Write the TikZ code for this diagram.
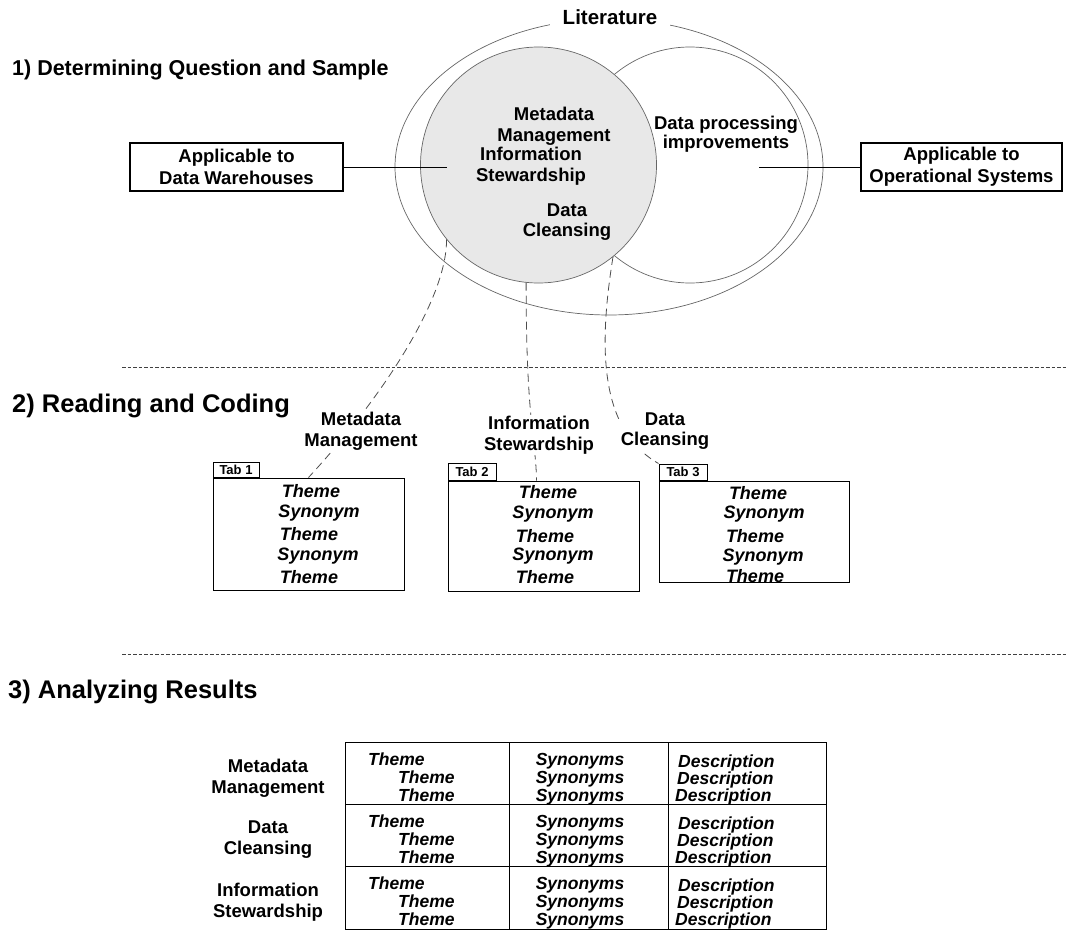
\documentclass[tikz,border=0pt]{standalone}
\usepackage{fontspec}
\setmainfont{Liberation Sans}
\usetikzlibrary{shapes.geometric}

\begin{document}
\begin{tikzpicture}[x=1pt,y=-1pt,
  outline/.style={draw=black!60, line width=0.7pt},
  appbox/.style={draw=black, line width=1.1pt, minimum width=213pt, minimum height=48pt,
    inner sep=0pt, align=center, font=\fontsize{18.5}{21.6}\selectfont\bfseries},
  lbl/.style={align=center, inner sep=0pt, font=\fontsize{18.5}{20.7}\selectfont\bfseries},
  wlbl/.style={lbl, fill=white, inner sep=1pt},
  sechead/.style={anchor=base west, inner sep=0pt, font=\fontsize{25.5}{28}\selectfont\bfseries},
  tabline/.style={anchor=base, inner sep=0pt, font=\fontsize{18}{20}\selectfont\bfseries\itshape},
  tabbox/.style={draw=black, line width=1pt, inner sep=0pt},
  tabhead/.style={draw=black, line width=1pt, anchor=south west, inner sep=0pt,
    font=\fontsize{13}{13}\selectfont\bfseries},
  dlink/.style={draw=black!70, line width=0.8pt, dash pattern=on 8pt off 5pt},
  rule/.style={draw=black!75, line width=1pt, dash pattern=on 3.5pt off 2pt},
  tcell/.style={inner sep=0pt, font=\fontsize{17.5}{18}\selectfont\bfseries\itshape},
  rowlbl/.style={align=center, inner sep=0pt, font=\fontsize{18.5}{21}\selectfont\bfseries}
]
\useasboundingbox (0,0) rectangle (1068,934);

% ---------- 1) question and sample ----------
\node[sechead, font=\fontsize{21.5}{24}\selectfont\bfseries] (h1) at (12,76) {1) Determining Question and Sample};

\node[ellipse, outline, minimum width=428pt, minimum height=296pt, inner sep=0pt] (lit) at (609,167) {};
\node[circle, outline, minimum size=236pt, inner sep=0pt] (dp) at (690,165) {};
\node[circle, outline, fill=black!9, minimum size=236pt, inner sep=0pt] (gc) at (538.5,165) {};

\node[anchor=base, fill=white, inner xsep=13pt, inner ysep=2pt,
  font=\fontsize{20.5}{22}\selectfont\bfseries] (littxt) at (610,25) {Literature};

\node[lbl] (mm1) at (554,126) {Metadata\\Management};
\node[lbl] (is1) at (531,166) {Information\\Stewardship};
\node[lbl] (dc1) at (567,222) {Data\\Cleansing};
\node[lbl, font=\fontsize{18.5}{19.5}\selectfont\bfseries] (dpi) at (726,134) {Data processing\\improvements};

\node[appbox] (lbox) at (236.5,167) {Applicable to\\Data Warehouses};
\node[appbox, minimum width=201pt] (rbox) at (961.5,167) {Applicable to\\Operational Systems};
\coordinate (lend) at (447,167);
\coordinate (rend) at (759,167);
\draw[black, line width=0.8pt] (lbox.east) -- (lend);
\draw[black, line width=0.8pt] (rend) -- (rbox.west);

% ---------- separators ----------
\coordinate (s1a) at (122,367);
\coordinate (s1b) at (1066,367);
\coordinate (s2a) at (122,654);
\coordinate (s2b) at (1066,654);
\draw[rule] (s1a) -- (s1b);
\draw[rule] (s2a) -- (s2b);

% ---------- 2) reading and coding ----------
\node[sechead] (h2) at (12,412) {2) Reading and Coding};

\node[tabbox, minimum width=191pt, minimum height=112pt] (tab1) at (308.5,534) {};
\node[tabhead, minimum width=46pt, minimum height=15pt] (tab1h) at (tab1.north west) {Tab 1};
\node[tabbox, minimum width=191pt, minimum height=110pt] (tab2) at (543.5,536) {};
\node[tabhead, minimum width=48pt, minimum height=17pt] (tab2h) at (tab2.north west) {Tab 2};
\node[tabbox, minimum width=190pt, minimum height=101pt] (tab3) at (754,531.5) {};
\node[tabhead, minimum width=48pt, minimum height=16pt] (tab3h) at (tab3.north west) {Tab 3};

% dashed links from the circle down to the tabs
\draw[dlink] (gc.219.5) .. controls (447,300) and (380,400) .. (tab1.north);
\draw[dlink] (gc.264) .. controls (526,420) and (536,440) .. ([xshift=-7pt]tab2.north);
\draw[dlink] (gc.309) .. controls (598,350) and (600,430) .. (tab3h.north west);

\node[wlbl] (mm2) at (361,431) {Metadata\\Management};
\node[wlbl] (is2) at (539,435) {Information\\Stewardship};
\node[wlbl] (dc2) at (665,431) {Data\\Cleansing};

% tab contents
\node[tabline] (t1a) at (311,497) {Theme};
\node[tabline] (t1b) at (319,517) {Synonym};
\node[tabline] (t1c) at (309,540) {Theme};
\node[tabline] (t1d) at (318,560) {Synonym};
\node[tabline] (t1e) at (309,583) {Theme};

\node[tabline] (t2a) at (548,498) {Theme};
\node[tabline] (t2b) at (553,518) {Synonym};
\node[tabline] (t2c) at (545,542) {Theme};
\node[tabline] (t2d) at (553,560) {Synonym};
\node[tabline] (t2e) at (545,583) {Theme};

\node[tabline] (t3a) at (758,499) {Theme};
\node[tabline] (t3b) at (764,518) {Synonym};
\node[tabline] (t3c) at (755,542) {Theme};
\node[tabline] (t3d) at (763,561) {Synonym};
\node[tabline] (t3e) at (755,582) {Theme};

% ---------- 3) analyzing results ----------
\node[sechead] (h3) at (8,698) {3) Analyzing Results};

\draw[black, line width=1pt] (345,742) rectangle (826,929);
\draw[black, line width=1pt] (345,804) -- (826,804);
\draw[black, line width=1pt] (345,866) -- (826,866);
\draw[black, line width=1pt] (509,742) -- (509,929);
\draw[black, line width=1pt] (668,742) -- (668,929);

\node[rowlbl] (r1) at (268,778) {Metadata\\Management};
\node[rowlbl] (r2) at (268,840) {Data\\Cleansing};
\node[rowlbl] (r3) at (268,902) {Information\\Stewardship};

\foreach \r/\y in {1/765, 2/827, 3/889} {
  \node[tcell, anchor=base west] (th\r a) at (368,\y) {Theme};
  \node[tcell, anchor=base west] (th\r b) at (398,\y+18) {Theme};
  \node[tcell, anchor=base west] (th\r c) at (398,\y+36) {Theme};
  \node[tcell, anchor=base] (sy\r a) at (580,\y) {Synonyms};
  \node[tcell, anchor=base] (sy\r b) at (580,\y+18) {Synonyms};
  \node[tcell, anchor=base] (sy\r c) at (580,\y+36) {Synonyms};
  \node[tcell, anchor=base west] (de\r a) at (678,\y+2) {Description};
  \node[tcell, anchor=base west] (de\r b) at (677,\y+19) {Description};
  \node[tcell, anchor=base west] (de\r c) at (675,\y+36) {Description};
}
\end{tikzpicture}
\end{document}
